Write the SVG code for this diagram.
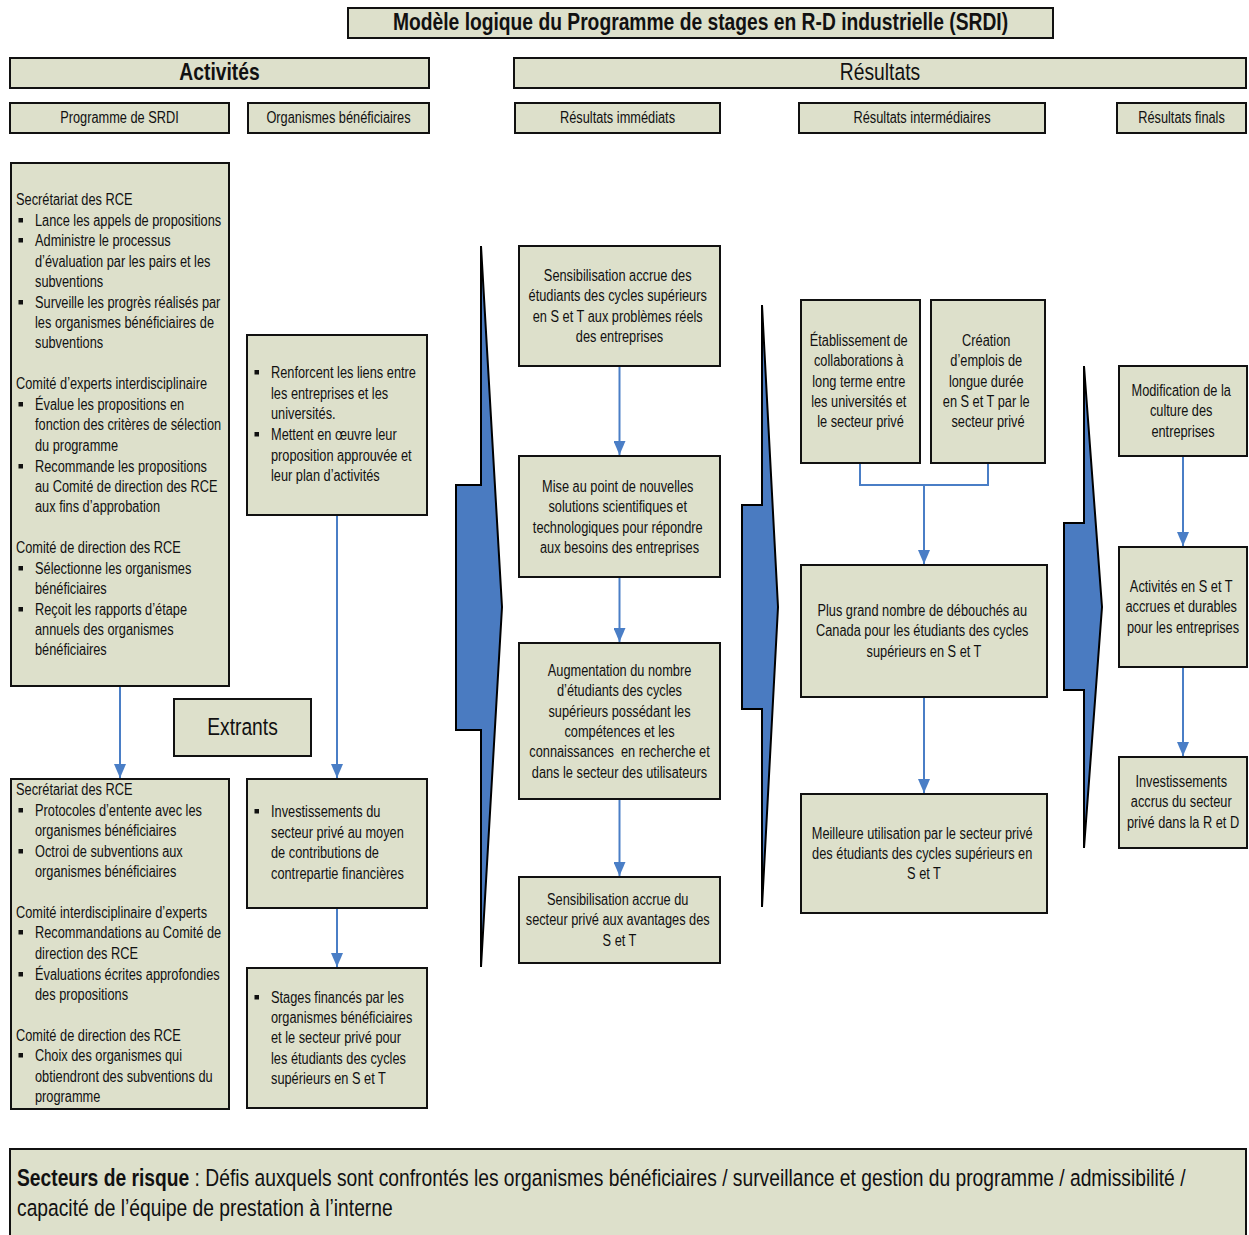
<svg xmlns="http://www.w3.org/2000/svg" width="1249" height="1235" viewBox="0 0 1249 1235">
<style>
.box{fill:#DDE0CB;stroke:#111;stroke-width:2}
.t{font-family:'Liberation Sans',Arial,sans-serif;font-size:15.6px;fill:#111}
.big{font-family:'Liberation Sans',Arial,sans-serif;font-size:23.5px;fill:#111}
.b{font-weight:bold}
.mid{text-anchor:middle}
.pre{white-space:pre}
.con{fill:none;stroke:#4A7EC6;stroke-width:2}
.chev{fill:#4A7BC1;stroke:#000;stroke-width:2;stroke-linejoin:miter}
.bul{fill:#111}
</style>
<defs>
<marker id="ad" markerUnits="userSpaceOnUse" markerWidth="12" markerHeight="14" viewBox="0 0 12 14" refX="6" refY="14" orient="0">
<path d="M0,0 L12,0 L6,14 z" fill="#4A7EC6"/>
</marker>
</defs>
<rect width="1249" height="1235" fill="#fff"/>

<g id="title">
<rect class="box" x="348" y="8" width="705" height="30"/>
<text class="big b mid" transform="translate(700.5 0) scale(0.82 1)" x="0" y="30">Modèle logique du Programme de stages en R-D industrielle (SRDI)</text>
</g>
<g id="hdr-activites">
<rect class="box" x="10" y="58" width="419" height="30"/>
<text class="big b mid" transform="translate(219.5 0) scale(0.82 1)" x="0" y="80">Activités</text>
</g>
<g id="hdr-resultats">
<rect class="box" x="514" y="58" width="732" height="30"/>
<text class="big mid" transform="translate(880 0) scale(0.82 1)" x="0" y="80">Résultats</text>
</g>
<g id="hdr-srdi">
<rect class="box" x="10" y="103" width="219" height="30"/>
<text class="t mid" transform="translate(119.5 0) scale(0.82 1)" x="0" y="123">Programme de SRDI</text>
</g>
<g id="hdr-org">
<rect class="box" x="248" y="103" width="181" height="30"/>
<text class="t mid" transform="translate(338.5 0) scale(0.82 1)" x="0" y="123">Organismes bénéficiaires</text>
</g>
<g id="hdr-imm">
<rect class="box" x="515" y="103" width="205" height="30"/>
<text class="t mid" transform="translate(617.5 0) scale(0.82 1)" x="0" y="123">Résultats immédiats</text>
</g>
<g id="hdr-int">
<rect class="box" x="799" y="103" width="246" height="30"/>
<text class="t mid" transform="translate(922 0) scale(0.82 1)" x="0" y="123">Résultats intermédiaires</text>
</g>
<g id="hdr-fin">
<rect class="box" x="1117" y="103" width="129" height="30"/>
<text class="t mid" transform="translate(1181.5 0) scale(0.82 1)" x="0" y="123">Résultats finals</text>
</g>

<g id="chevrons">
<polygon class="chev" points="481,246 502,607 481,967 481,730 456,730 456,485 481,485"/>
<polygon class="chev" points="762,305 778,607 762,907 762,709 742,709 742,505 762,505"/>
<polygon class="chev" points="1084,366 1102,607 1084,848 1084,690 1064,690 1064,523 1084,523"/>
</g>

<g id="act-srdi">
<rect class="box" x="11" y="163" width="218" height="523"/>
<text class="t" transform="translate(16 1) scale(0.82 1)">
<tspan x="0" y="204.5">Secrétariat des RCE</tspan>
<tspan x="0" y="388.5">Comité d’experts interdisciplinaire</tspan>
<tspan x="0" y="552.5">Comité de direction des RCE</tspan>
</text>
<text class="t" transform="translate(35 1) scale(0.82 1)">
<tspan x="0" y="225.5">Lance les appels de propositions</tspan>
<tspan x="0" y="245.5">Administre le processus</tspan>
<tspan x="0" y="266.5">d’évaluation par les pairs et les</tspan>
<tspan x="0" y="286.5">subventions</tspan>
<tspan x="0" y="307.5">Surveille les progrès réalisés par</tspan>
<tspan x="0" y="327.5">les organismes bénéficiaires de</tspan>
<tspan x="0" y="347.5">subventions</tspan>
<tspan x="0" y="409.5">Évalue les propositions en</tspan>
<tspan x="0" y="429.5">fonction des critères de sélection</tspan>
<tspan x="0" y="450.5">du programme</tspan>
<tspan x="0" y="471.5">Recommande les propositions</tspan>
<tspan x="0" y="491.5">au Comité de direction des RCE</tspan>
<tspan x="0" y="511.5">aux fins d’approbation</tspan>
<tspan x="0" y="573.5">Sélectionne les organismes</tspan>
<tspan x="0" y="593.5">bénéficiaires</tspan>
<tspan x="0" y="614.5">Reçoit les rapports d’étape</tspan>
<tspan x="0" y="634.5">annuels des organismes</tspan>
<tspan x="0" y="654.5">bénéficiaires</tspan>
</text>
<rect class="bul" x="18.5" y="218" width="4.5" height="4.5"/>
<rect class="bul" x="18.5" y="238" width="4.5" height="4.5"/>
<rect class="bul" x="18.5" y="300" width="4.5" height="4.5"/>
<rect class="bul" x="18.5" y="402" width="4.5" height="4.5"/>
<rect class="bul" x="18.5" y="464" width="4.5" height="4.5"/>
<rect class="bul" x="18.5" y="566" width="4.5" height="4.5"/>
<rect class="bul" x="18.5" y="607" width="4.5" height="4.5"/>
</g>

<g id="act-org">
<rect class="box" x="247" y="335" width="180" height="180"/>
<text class="t" transform="translate(271 1) scale(0.82 1)">
<tspan x="0" y="377.5">Renforcent les liens entre</tspan>
<tspan x="0" y="398.5">les entreprises et les</tspan>
<tspan x="0" y="418.5">universités.</tspan>
<tspan x="0" y="439.5">Mettent en œuvre leur</tspan>
<tspan x="0" y="460.5">proposition approuvée et</tspan>
<tspan x="0" y="480.5">leur plan d’activités</tspan>
</text>
<rect class="bul" x="254.5" y="370" width="4.5" height="4.5"/>
<rect class="bul" x="254.5" y="432" width="4.5" height="4.5"/>
</g>

<g id="extrants">
<rect class="box" x="174" y="699" width="137" height="57"/>
<text class="big mid" transform="translate(242.5 0) scale(0.82 1)" x="0" y="735">Extrants</text>
</g>

<g id="out-srdi">
<rect class="box" x="11" y="779" width="218" height="330"/>
<text class="t" transform="translate(16 1) scale(0.82 1)">
<tspan x="0" y="794.5">Secrétariat des RCE</tspan>
<tspan x="0" y="917.5">Comité interdisciplinaire d’experts</tspan>
<tspan x="0" y="1040.5">Comité de direction des RCE</tspan>
</text>
<text class="t" transform="translate(35 1) scale(0.82 1)">
<tspan x="0" y="815.5">Protocoles d’entente avec les</tspan>
<tspan x="0" y="835.5">organismes bénéficiaires</tspan>
<tspan x="0" y="856.5">Octroi de subventions aux</tspan>
<tspan x="0" y="876.5">organismes bénéficiaires</tspan>
<tspan x="0" y="937.5">Recommandations au Comité de</tspan>
<tspan x="0" y="958.5">direction des RCE</tspan>
<tspan x="0" y="979.5">Évaluations écrites approfondies</tspan>
<tspan x="0" y="999.5">des propositions</tspan>
<tspan x="0" y="1060.5">Choix des organismes qui</tspan>
<tspan x="0" y="1081.5">obtiendront des subventions du</tspan>
<tspan x="0" y="1101.5">programme</tspan>
</text>
<rect class="bul" x="18.5" y="808" width="4.5" height="4.5"/>
<rect class="bul" x="18.5" y="849" width="4.5" height="4.5"/>
<rect class="bul" x="18.5" y="930" width="4.5" height="4.5"/>
<rect class="bul" x="18.5" y="972" width="4.5" height="4.5"/>
<rect class="bul" x="18.5" y="1053" width="4.5" height="4.5"/>
</g>

<g id="out-org1">
<rect class="box" x="247" y="779" width="180" height="129"/>
<text class="t" transform="translate(271 1) scale(0.82 1)">
<tspan x="0" y="816.5">Investissements du</tspan>
<tspan x="0" y="837.5">secteur privé au moyen</tspan>
<tspan x="0" y="857.5">de contributions de</tspan>
<tspan x="0" y="878.5">contrepartie financières</tspan>
</text>
<rect class="bul" x="254.5" y="809" width="4.5" height="4.5"/>
</g>

<g id="out-org2">
<rect class="box" x="247" y="968" width="180" height="140"/>
<text class="t" transform="translate(271 1) scale(0.82 1)">
<tspan x="0" y="1002.5">Stages financés par les</tspan>
<tspan x="0" y="1022.5">organismes bénéficiaires</tspan>
<tspan x="0" y="1042.5">et le secteur privé pour</tspan>
<tspan x="0" y="1063.5">les étudiants des cycles</tspan>
<tspan x="0" y="1083.5">supérieurs en S et T</tspan>
</text>
<rect class="bul" x="254.5" y="995" width="4.5" height="4.5"/>
</g>

<g id="imm1">
<rect class="box" x="519" y="246" width="201" height="120"/>
<text class="t mid" transform="translate(619.5 1) scale(0.82 1)">
<tspan x="0" y="280.5">Sensibilisation accrue des</tspan>
<tspan x="0" y="300.5">étudiants des cycles supérieurs</tspan>
<tspan x="0" y="321.5">en S et T aux problèmes réels</tspan>
<tspan x="0" y="341.5">des entreprises</tspan>
</text>
</g>
<g id="imm2">
<rect class="box" x="519" y="456" width="201" height="121"/>
<text class="t mid" transform="translate(619.5 1) scale(0.82 1)">
<tspan x="0" y="491.5">Mise au point de nouvelles</tspan>
<tspan x="0" y="511.5">solutions scientifiques et</tspan>
<tspan x="0" y="532.5">technologiques pour répondre</tspan>
<tspan x="0" y="552.5">aux besoins des entreprises</tspan>
</text>
</g>
<g id="imm3">
<rect class="box" x="519" y="643" width="201" height="156"/>
<text class="t mid pre" transform="translate(619.5 1) scale(0.82 1)"><tspan x="0" y="675.5">Augmentation du nombre</tspan><tspan x="0" y="695.5">d’étudiants des cycles</tspan><tspan x="0" y="716.5">supérieurs possédant les</tspan><tspan x="0" y="736.5">compétences et les</tspan><tspan x="0" y="756.5">connaissances  en recherche et</tspan><tspan x="0" y="777.5">dans le secteur des utilisateurs</tspan></text>
</g>
<g id="imm4">
<rect class="box" x="519" y="877" width="201" height="86"/>
<text class="t mid" transform="translate(619.5 1) scale(0.82 1)">
<tspan x="0" y="904.5">Sensibilisation accrue du</tspan>
<tspan x="0" y="924.5">secteur privé aux avantages des</tspan>
<tspan x="0" y="945.5">S et T</tspan>
</text>
</g>

<g id="int1">
<rect class="box" x="801" y="300" width="119" height="163"/>
<text class="t mid" transform="translate(860.5 1) scale(0.82 1)">
<tspan x="0" y="345.5">Établissement de</tspan>
<tspan x="0" y="365.5">collaborations à</tspan>
<tspan x="0" y="386.5">long terme entre</tspan>
<tspan x="0" y="406.5">les universités et</tspan>
<tspan x="0" y="426.5">le secteur privé</tspan>
</text>
</g>
<g id="int2">
<rect class="box" x="931" y="300" width="114" height="163"/>
<text class="t mid" transform="translate(988 1) scale(0.82 1)">
<tspan x="0" y="345.5">Création</tspan>
<tspan x="0" y="365.5">d’emplois de</tspan>
<tspan x="0" y="386.5">longue durée</tspan>
<tspan x="0" y="406.5">en S et T par le</tspan>
<tspan x="0" y="426.5">secteur privé</tspan>
</text>
</g>
<g id="int3">
<rect class="box" x="801" y="565" width="246" height="132"/>
<text class="t mid" transform="translate(924 1) scale(0.82 1)">
<tspan x="0" y="615.5">Plus grand nombre de débouchés au</tspan>
<tspan x="0" y="635.5">Canada pour les étudiants des cycles</tspan>
<tspan x="0" y="656.5">supérieurs en S et T</tspan>
</text>
</g>
<g id="int4">
<rect class="box" x="801" y="794" width="246" height="119"/>
<text class="t mid" transform="translate(924 1) scale(0.82 1)">
<tspan x="0" y="838.5">Meilleure utilisation par le secteur privé</tspan>
<tspan x="0" y="858.5">des étudiants des cycles supérieurs en</tspan>
<tspan x="0" y="878.5">S et T</tspan>
</text>
</g>

<g id="fin1">
<rect class="box" x="1119" y="366" width="128" height="90"/>
<text class="t mid" transform="translate(1183 1) scale(0.82 1)">
<tspan x="0" y="395.5">Modification de la</tspan>
<tspan x="0" y="415.5">culture des</tspan>
<tspan x="0" y="436.5">entreprises</tspan>
</text>
</g>
<g id="fin2">
<rect class="box" x="1119" y="547" width="128" height="120"/>
<text class="t mid" transform="translate(1183 1) scale(0.82 1)">
<tspan x="0" y="591.5">Activités en S et T</tspan>
<tspan x="0" y="611.5">accrues et durables</tspan>
<tspan x="0" y="632.5">pour les entreprises</tspan>
</text>
</g>
<g id="fin3">
<rect class="box" x="1119" y="757" width="128" height="91"/>
<text class="t mid" transform="translate(1183 1) scale(0.82 1)">
<tspan x="0" y="786.5">Investissements</tspan>
<tspan x="0" y="806.5">accrus du secteur</tspan>
<tspan x="0" y="827.5">privé dans la R et D</tspan>
</text>
</g>

<g id="risque">
<rect class="box" x="10" y="1149" width="1236" height="92"/>
<text class="big" transform="translate(17 0) scale(0.82 1)">
<tspan x="0" y="1186"><tspan class="b">Secteurs de risque</tspan> : Défis auxquels sont confrontés les organismes bénéficiaires / surveillance et gestion du programme / admissibilité /</tspan>
<tspan x="0" y="1216">capacité de l’équipe de prestation à l’interne</tspan>
</text>
</g>

<g id="connectors">
<line class="con" x1="120" y1="687" x2="120" y2="778" marker-end="url(#ad)"/>
<line class="con" x1="337" y1="516" x2="337" y2="778" marker-end="url(#ad)"/>
<line class="con" x1="337" y1="909" x2="337" y2="967" marker-end="url(#ad)"/>
<line class="con" x1="619.5" y1="367" x2="619.5" y2="455" marker-end="url(#ad)"/>
<line class="con" x1="619.5" y1="578" x2="619.5" y2="642" marker-end="url(#ad)"/>
<line class="con" x1="619.5" y1="800" x2="619.5" y2="876" marker-end="url(#ad)"/>
<polyline class="con" points="860,464 860,485 988,485 988,464"/>
<line class="con" x1="924" y1="485" x2="924" y2="564" marker-end="url(#ad)"/>
<line class="con" x1="924" y1="698" x2="924" y2="793" marker-end="url(#ad)"/>
<line class="con" x1="1183" y1="457" x2="1183" y2="546" marker-end="url(#ad)"/>
<line class="con" x1="1183" y1="668" x2="1183" y2="756" marker-end="url(#ad)"/>
</g>
</svg>
